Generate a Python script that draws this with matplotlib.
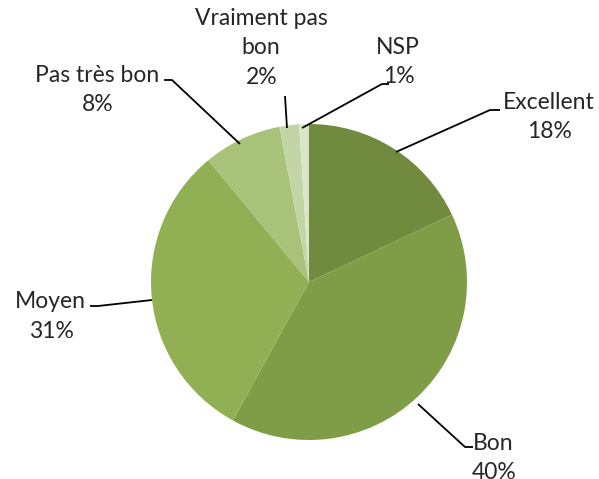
import matplotlib
matplotlib.use("Agg")
import matplotlib.pyplot as plt

categories = ["Excellent", "Bon", "Moyen", "Pas très bon", "Vraiment pas\nbon", "NSP"]
values = [18, 40, 31, 8, 2, 1]
pct_labels = ["18%", "40%", "31%", "8%", "2%", "1%"]
colors = ["#718b3e", "#7f9c47", "#91b054", "#a8c27a", "#c4d5a5", "#dbe6c8"]

plt.rcParams['font.family'] = ['Lato', 'DejaVu Sans']

W, H = 599, 479
fig = plt.figure(figsize=(W / 100, H / 100), dpi=100)
ax = fig.add_axes([0, 0, 1, 1])

cx, cy, r = 309, H - 282, 158
ax.pie(values, colors=colors, startangle=90, counterclock=False,
       center=(cx, cy), radius=r, frame=True,
       wedgeprops=dict(linewidth=0))
ax.set_xlim(0, W)
ax.set_ylim(0, H)
ax.axis('off')
ax.set_aspect('equal')

def y(v):
    return H - v

label_specs = [
    (549, 102, [(396, 152), (490, 110), (500, 110)]),
    (493, 443, [(418, 404), (465, 447), (473, 447)]),
    (50, 302, [(152, 300), (98, 306), (90, 306)]),
    (97, 75, [(240, 144), (172, 80), (164, 80)]),
    (261, 18, [(287, 128), (285, 96)]),
    (398, 47, [(302, 128), (382, 84), (389, 84)]),
]

for (name, pct, (tx, ty, pts)) in zip(categories, pct_labels, label_specs):
    xs = [p[0] for p in pts]
    ys = [y(p[1]) for p in pts]
    ax.plot(xs, ys, color="black", lw=1.3, solid_capstyle='butt')
    lines = name.split("\n") + [pct]
    for i, t in enumerate(lines):
        ax.text(tx if i < len(lines) - 1 else tx + 1, y(ty + i * 29.5), t,
                ha='center', va='center', fontsize=16.5, color="#262626")

fig.savefig("out.png", dpi=100)
